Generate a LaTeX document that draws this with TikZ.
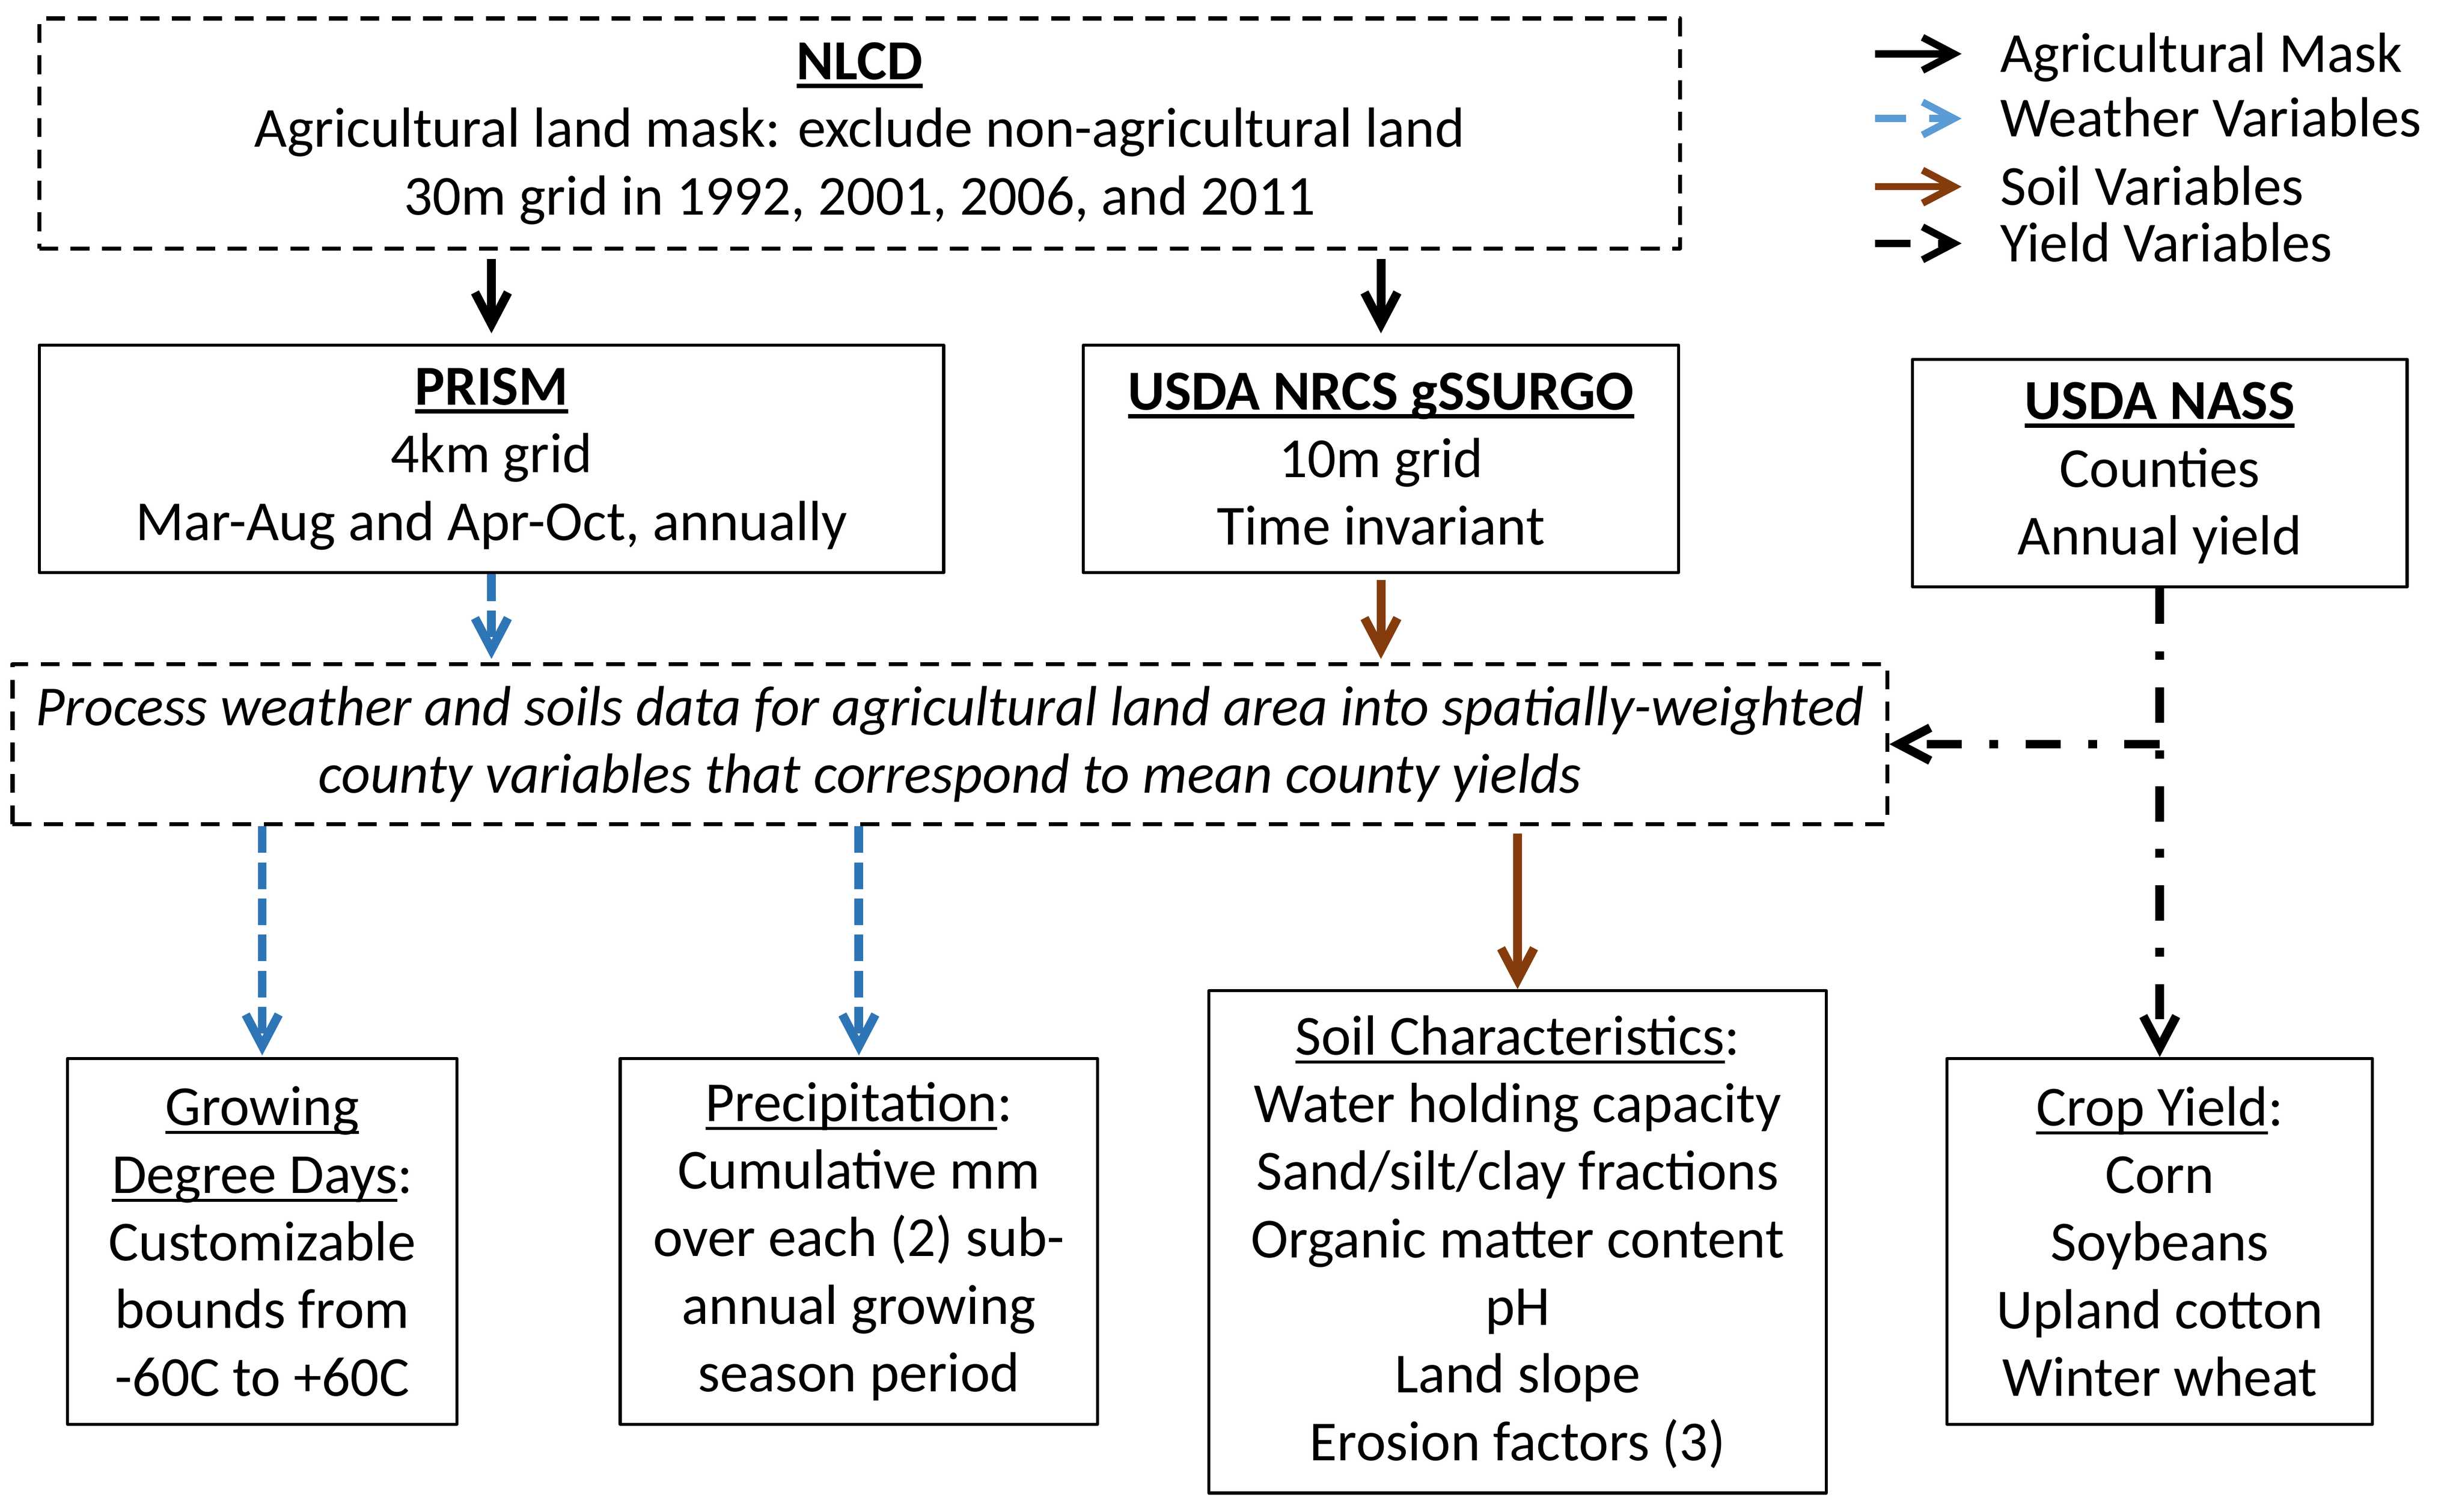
\documentclass[tikz,border=0pt]{standalone}
\usepackage{fontspec}
\setmainfont{Carlito}
\usetikzlibrary{arrows.meta}
\definecolor{wxblue}{HTML}{2E75B6}
\definecolor{wxlight}{HTML}{5B9BD5}
\definecolor{soilbrown}{HTML}{843C0C}
\newlength{\ulwd}
\newcommand{\ulin}[2][1.1pt]{\settowidth{\ulwd}{#2}\rlap{#2}\rule[-1.1mm]{\ulwd}{#1}}
\newcommand{\headul}[1]{\textbf{\ulin[1.6pt]{#1}}}
\begin{document}
\begin{tikzpicture}[x=0.2mm, y=-0.2mm, line join=round,
	font=\fontsize{20.5}{24.5}\selectfont,
	solidbox/.style={draw, line width=1.1pt, inner sep=0pt, align=center},
	dashbox/.style={solidbox, line width=1.45pt, dash pattern=on 2.4mm off 1.6mm},
	barbtip/.style={-{Straight Barb[length=4mm, width=4.2mm]}},
	agarrow/.style={barbtip, line width=3.2pt},
	wxarrow/.style={barbtip, line width=3.2pt, color=wxblue, dash pattern=on 3.4mm off 1.2mm},
	wxlegend/.style={barbtip, line width=3.2pt, color=wxlight, dash pattern=on 3.9mm off 3mm},
	soilarrow/.style={barbtip, line width=3.2pt, color=soilbrown},
	yieldarrow/.style={barbtip, line width=3.2pt, dash pattern=on 4.5mm off 3.5mm on 1.1mm off 3.5mm}]
	\useasboundingbox (0,0) rectangle (1568,962.8);
	% nguồn dữ liệu
	\node[dashbox, minimum width=209mm, minimum height=29.3mm] (nlcd) at (547.5,85)
		{\headul{NLCD}\\Agricultural land mask: exclude non-agricultural land\\30m grid in 1992, 2001, 2006, and 2011};
	\node[solidbox, minimum width=115.2mm, minimum height=29mm] (prism) at (313,292.3)
		{\headul{PRISM}\\4km grid\\Mar-Aug and Apr-Oct, annually};
	\node[solidbox, minimum width=75.8mm, minimum height=29mm] (ssurgo) at (879.5,292.3)
		{\headul{USDA NRCS gSSURGO}\\10m grid\\Time invariant};
	\node[solidbox, minimum width=63mm, minimum height=29mm] (nass) at (1375.5,301.3)
		{\headul{USDA NASS}\\Counties\\Annual yield};
	% xử lý
	\node[dashbox, minimum width=238.8mm, minimum height=20.4mm] (process) at (605,474)
		{\itshape Process weather and soils data for agricultural land area into spatially-weighted\\\itshape county variables that correspond to mean county yields};
	% biến đầu ra
	\node[solidbox, minimum width=49.6mm, minimum height=46.6mm] (gdd) at (167,790.7)
		{\ulin{Growing}\\\ulin{Degree Days}:\\Customizable\\bounds from\\-60C to +60C};
	\node[solidbox, minimum width=60.8mm, minimum height=46.6mm] (precip) at (547,790.7)
		{\ulin{Precipitation}:\\Cumulative mm\\over each (2) sub-\\annual growing\\season period};
	\node[solidbox, minimum width=78.6mm, minimum height=64mm] (soil) at (966.5,791)
		{\ulin{Soil Characteristics}:\\Water holding capacity\\Sand/silt/clay fractions\\Organic matter content\\pH\\Land slope\\Erosion factors (3)};
	\node[solidbox, minimum width=54.2mm, minimum height=46.6mm] (crop) at (1375.5,790.7)
		{\ulin{Crop Yield}:\\Corn\\Soybeans\\Upland cotton\\Winter wheat};
	% mũi tên
	\draw[agarrow, shorten <=1.1mm, shorten >=1.3mm] (nlcd.south -| prism.north) -- (prism.north);
	\draw[agarrow, shorten <=1.1mm, shorten >=1.3mm] (nlcd.south -| ssurgo.north) -- (ssurgo.north);
	\draw[wxarrow, shorten >=0.4mm] (prism.south) -- (prism.south |- process.north);
	\draw[soilarrow, shorten <=0.7mm, shorten >=0.4mm] (ssurgo.south) -- (ssurgo.south |- process.north);
	\draw[wxarrow, shorten >=0.2mm] (process.south -| gdd.north) -- (gdd.north);
	\draw[wxarrow, shorten >=0.2mm] (process.south -| precip.north) -- (precip.north);
	\draw[soilarrow, shorten <=0.9mm] (process.south -| soil.north) -- (soil.north);
	\coordinate (split) at (nass.south |- process.east);
	\draw[yieldarrow] (nass.south) -- (crop.north);
	\draw[yieldarrow] (split) -- (process.east);
	% chú thích
	\foreach \y/\sty/\lab [count=\i] in {34.3/agarrow/Agricultural Mask, 75.5/wxlegend/Weather Variables,
		118.9/soilarrow/Soil Variables, 155/yieldarrow/Yield Variables}{
		\coordinate (la\i) at (1194.3,\y);
		\coordinate (lb\i) at (1249.3,\y);
		\draw[\sty, line width=2.6pt] (la\i) -- (lb\i);
		\node[anchor=base west, inner sep=0pt] (leg\i) at (1273.6,\y+11.6) {\lab};
	}
\end{tikzpicture}
\end{document}
